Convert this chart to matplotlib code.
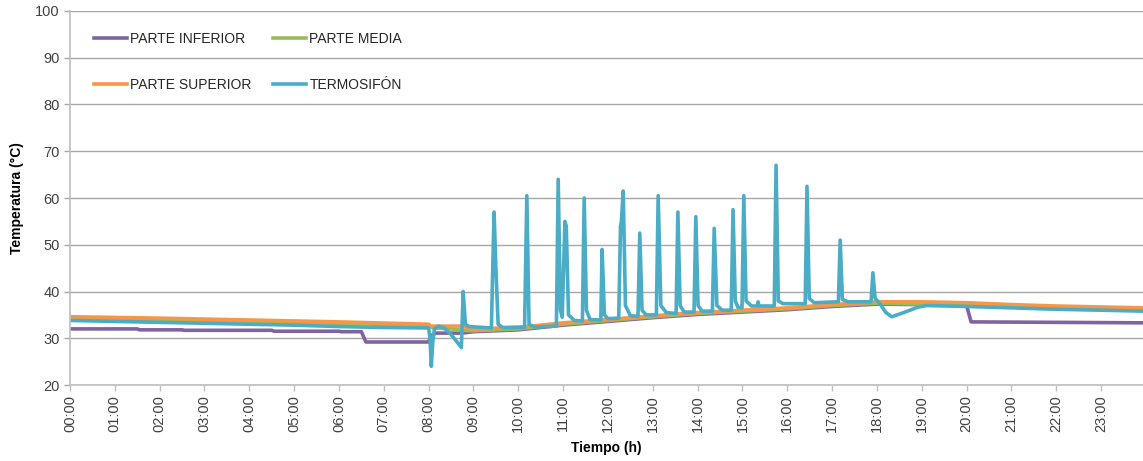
import matplotlib
matplotlib.use("Agg")
import matplotlib.pyplot as plt

# Temperatures over one day (hours, °C)
inferior_t = [0.0, 1.5, 1.55, 2.5, 2.55, 4.5, 4.55, 6.0, 6.05, 6.5, 6.6, 8.0, 8.05, 8.15,
              8.75, 9.0, 10.0, 11.0, 12.0, 13.0, 14.0, 15.0, 16.0, 17.0, 18.0, 19.0,
              20.0, 20.1, 22.0, 23.93]
inferior_v = [32.0, 32.0, 31.8, 31.8, 31.7, 31.7, 31.5, 31.5, 31.4, 31.4, 29.2, 29.2, 30.5, 31.1,
              31.1, 31.4, 31.8, 32.8, 33.6, 34.4, 35.1, 35.6, 36.1, 36.8, 37.3, 37.2,
              37.0, 33.5, 33.4, 33.3]

media_t = [0.0, 2.0, 4.0, 6.0, 8.0, 8.1, 8.5, 8.75, 9.0, 10.0, 11.0, 12.0, 13.0, 14.0,
           15.0, 16.0, 17.0, 18.0, 19.0, 20.0, 22.0, 23.93]
media_v = [34.2, 33.9, 33.6, 33.2, 32.7, 32.2, 32.0, 31.7, 31.6, 32.0, 33.0, 33.8, 34.6, 35.3,
           35.8, 36.3, 37.0, 37.5, 37.3, 37.1, 36.7, 36.3]

superior_t = [0.0, 2.0, 4.0, 6.0, 8.0, 8.05, 8.75, 9.0, 10.2, 11.0, 12.0, 13.0, 14.0,
              15.0, 16.0, 17.0, 18.0, 19.0, 20.0, 21.0, 22.0, 23.93]
superior_v = [34.6, 34.3, 33.9, 33.5, 33.0, 32.6, 32.6, 31.9, 32.5, 33.3, 34.0, 34.8, 35.5,
              36.0, 36.5, 37.2, 37.8, 37.8, 37.6, 37.2, 36.9, 36.5]

termo_t = [0.0, 1.0, 2.0, 3.0, 4.0, 5.0, 6.0, 7.0, 8.0, 8.03, 8.06, 8.09, 8.13, 8.22,
           8.35, 8.5, 8.65, 8.73, 8.77, 8.82, 8.9,
           9.40, 9.43, 9.46, 9.50, 9.55, 9.65,
           10.14, 10.19, 10.24, 10.35,
           10.85, 10.89, 10.94, 10.98, 11.04, 11.07, 11.12, 11.25,
           11.43, 11.47, 11.52, 11.6,
           11.84, 11.87, 11.92, 12.0,
           12.24, 12.28, 12.30, 12.34, 12.39, 12.5,
           12.67, 12.71, 12.76, 12.85,
           13.08, 13.12, 13.18, 13.3,
           13.52, 13.56, 13.61, 13.7,
           13.92, 13.96, 14.01, 14.1,
           14.33, 14.37, 14.43, 14.55,
           14.75, 14.79, 14.84, 14.9,
           14.99, 15.03, 15.08, 15.2,
           15.33, 15.35, 15.37,
           15.71, 15.75, 15.80, 15.9,
           16.40, 16.44, 16.49, 16.6,
           17.14, 17.18, 17.23, 17.35,
           17.87, 17.91, 17.96, 18.05, 18.2, 18.33, 18.6, 18.9, 19.1,
           20.0, 21.0, 22.0, 23.0, 23.93]
termo_v = [33.8, 33.6, 33.4, 33.2, 33.0, 32.8, 32.5, 32.3, 32.2, 30.0, 24.0, 29.0, 32.0, 32.6,
           32.2, 30.8, 29.0, 28.0, 40.0, 33.0, 32.5,
           32.2, 45.0, 57.0, 45.0, 33.0, 32.3,
           32.3, 60.5, 33.0, 32.4,
           32.6, 64.0, 36.0, 34.5, 55.0, 54.0, 35.0, 33.8,
           33.7, 60.0, 36.0, 34.0,
           33.9, 49.0, 35.0, 34.2,
           34.3, 54.0, 55.0, 61.5, 37.0, 34.8,
           34.7, 52.5, 36.0, 35.0,
           35.0, 60.5, 37.0, 35.5,
           35.3, 57.0, 37.0, 35.6,
           35.6, 56.0, 37.0, 35.8,
           35.8, 53.5, 37.0, 36.0,
           36.0, 57.5, 38.0, 36.6,
           36.5, 60.5, 38.0, 36.9,
           36.9, 37.8, 36.9,
           36.9, 67.0, 38.0, 37.4,
           37.4, 62.5, 38.5, 37.6,
           37.8, 51.0, 38.3, 37.8,
           37.8, 44.0, 38.5, 37.6, 35.5, 34.6, 35.5, 36.6, 37.0,
           36.8, 36.5, 36.2, 36.0, 35.8]

series = [
    ("PARTE INFERIOR", inferior_t, inferior_v, "#8064A2"),
    ("PARTE MEDIA", media_t, media_v, "#9BBB59"),
    ("PARTE SUPERIOR", superior_t, superior_v, "#F79646"),
    ("TERMOSIFÓN", termo_t, termo_v, "#4BACC6"),
]

hour_labels = [f"{h:02d}:00" for h in range(24)]

plt.rcParams["font.family"] = ["Liberation Sans", "DejaVu Sans"]

fig = plt.figure(figsize=(11.43, 4.61), dpi=100)
ax = fig.add_axes([70 / 1143, 76 / 461, 1073 / 1143, 374 / 461])

lines = {}
for name, t, v, color in series:
    lines[name], = ax.plot(t, v, color=color, linewidth=2.6, label=name,
                           solid_joinstyle="round")

ax.set_xlim(0, 23.935)
ax.set_ylim(20, 100)
ax.set_yticks(range(20, 101, 10))
ax.set_xticks(range(24))
ax.set_xticklabels(hour_labels, rotation=90)
ax.tick_params(axis="both", labelsize=10.5, colors="#404040", length=4, width=1)
ax.tick_params(axis="x", color="#BFBFBF")
ax.tick_params(axis="y", color="#A6A6A6")
ax.yaxis.grid(True, color="#A6A6A6", linewidth=1)
ax.set_axisbelow(True)
for side in ("top", "right"):
    ax.spines[side].set_visible(False)
for side in ("left", "bottom"):
    ax.spines[side].set_color("#BFBFBF")
    ax.spines[side].set_linewidth(1.2)

ax.set_xlabel("Tiempo (h)", fontsize=10, fontweight="bold", labelpad=6)
ax.set_ylabel("Temperatura (°C)", fontsize=10, fontweight="bold", labelpad=8)

# legend fills by column, so list it as inferior/superior then media/termosifón
order = ["PARTE INFERIOR", "PARTE SUPERIOR", "PARTE MEDIA", "TERMOSIFÓN"]
ax.legend([lines[n] for n in order], order, loc="upper left",
          bbox_to_anchor=(0.022, 0.945), ncol=2, frameon=False,
          fontsize=10, handlelength=2.4, handletextpad=0.25, columnspacing=1.5,
          labelspacing=2.35, borderpad=0, borderaxespad=0, labelcolor="#262626")

fig.savefig("out.png", dpi=100)
